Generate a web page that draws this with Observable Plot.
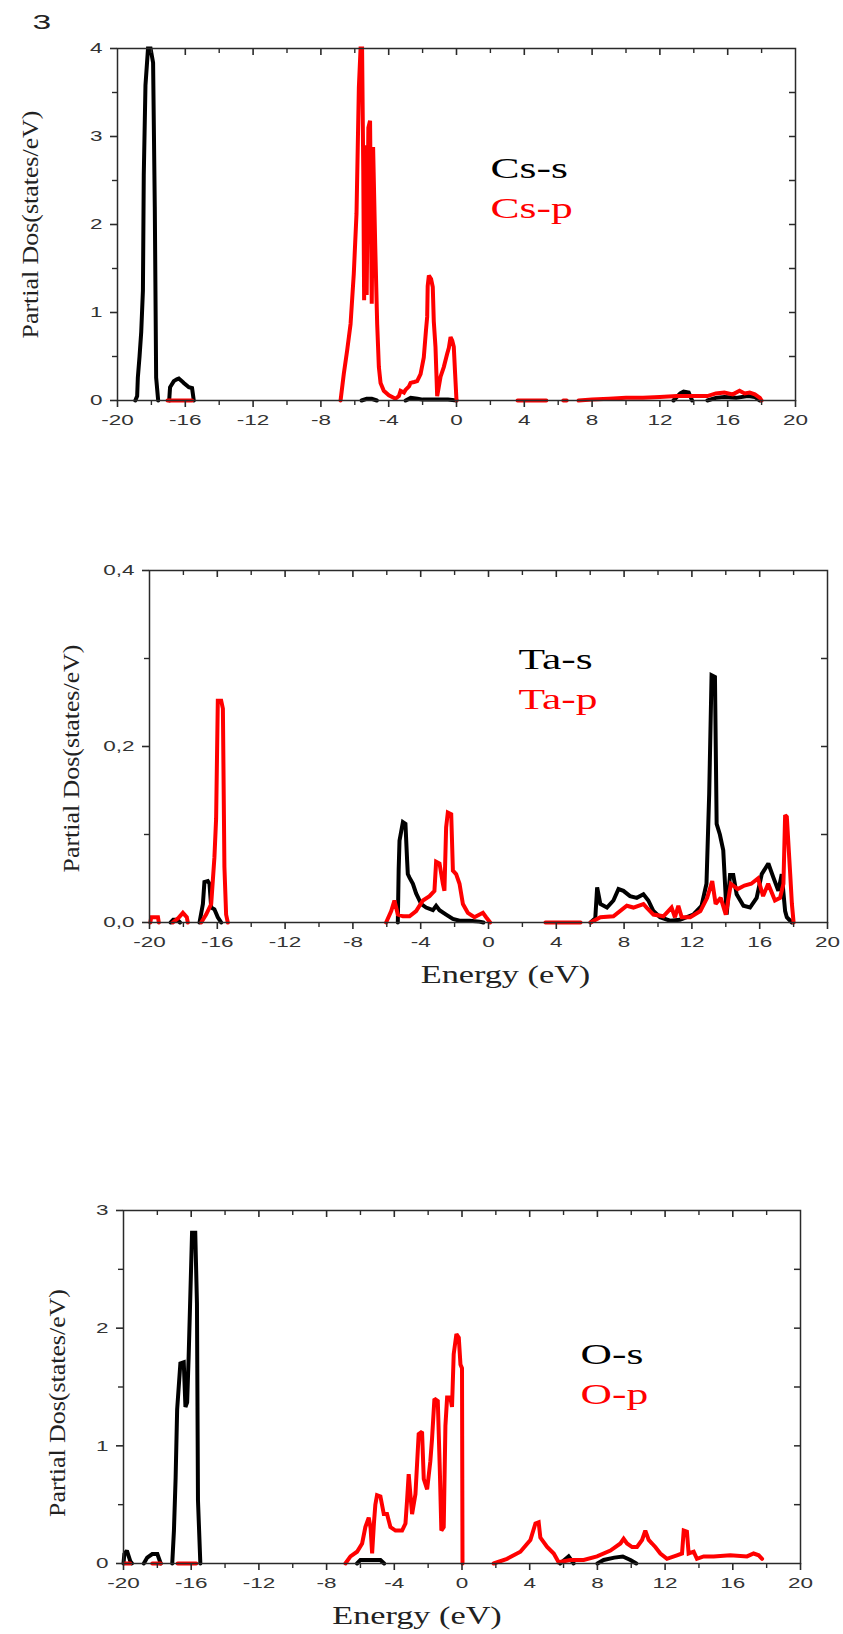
<!DOCTYPE html>
<html><head><meta charset="utf-8">
<script src="https://cdn.jsdelivr.net/npm/d3@7"></script>
<script src="https://cdn.jsdelivr.net/npm/@observablehq/plot@0.6"></script>
<style>
body{margin:0;background:#fff;}
#page{position:relative;width:843px;height:1634px;overflow:hidden;background:#fff;}
.panel{position:absolute;left:0;}
</style></head><body><div id="page"></div>
<script>
// ---------- tick values ----------
const xMajor = [-20,-16,-12,-8,-4,0,4,8,12,16,20];
const xMinor = [-18,-14,-10,-6,-2,2,6,10,14,18];
const xTopMajor = [-16,-12,-8,-4,0,4,8,12,16];
const yMajor1 = [0,1,2,3,4], yMinor1 = [0.5,1.5,2.5,3.5], yRight1 = [0.5,1,1.5,2,2.5,3,3.5];
const yMajor2 = [0,0.2,0.4], yMinor2 = [0.1,0.3], yRight2 = [0.1,0.2,0.3];
const yMajor3 = [0,1,2,3], yMinor3 = [0.5,1.5,2.5], yRight3 = [0.5,1,1.5,2,2.5];

// ---------- labels ----------
const legend1 = ["Cs-s","Cs-p"], legend2 = ["Ta-s","Ta-p"], legend3 = ["O-s","O-p"];
const yTitle = "Partial Dos(states/eV)";
const xTitle = "Energy (eV)";
const cornerText = "3";

// ---------- data: [energy (eV), PDOS]; null = gap ----------
const csS = [[-18.95,0],[-18.84,0.05],[-18.8,0.26],[-18.7,0.5],[-18.6,0.78],[-18.5,1.25],[-18.45,2.56],[-18.35,3.58],[-18.2,4.4],[-18.05,4.6],[-17.9,3.84],[-17.8,2.2],[-17.72,0.26],[-17.6,0],
null,[-16.95,0],[-16.9,0.15],[-16.68,0.22],[-16.5,0.24],[-16.38,0.25],[-16.2,0.22],[-16.09,0.2],[-15.79,0.15],[-15.6,0.14],[-15.5,0],
null,[-5.6,0],[-5.3,0.02],[-5.0,0.02],[-4.7,0],
null,[-3.0,0],[-2.7,0.03],[-2.3,0.02],[-2.0,0.01],[-0.5,0.01],[0,0],
null,[12.8,0],[13.2,0.08],[13.4,0.1],[13.7,0.09],[13.9,0],
null,[14.8,0],[15.3,0.03],[15.8,0.04],[16.5,0.03],[17.2,0.05],[17.6,0.04],[17.9,0]];

const csP = [[-17.05,0],[-15.6,0],
null,[-6.84,0],[-6.65,0.3],[-6.45,0.57],[-6.25,0.87],[-6.06,1.44],[-5.9,2.12],[-5.76,3.56],[-5.66,4.2],[-5.57,4.3],[-5.5,2.6],[-5.45,1.14],[-5.37,2.9],[-5.3,1.2],[-5.2,3.1],[-5.1,3.18],[-5.0,1.1],[-4.92,2.88],[-4.8,1.8],[-4.68,0.87],[-4.58,0.38],[-4.48,0.2],[-4.29,0.11],[-3.99,0.06],[-3.6,0.02],[-3.4,0.05],[-3.3,0.11],[-3.1,0.09],[-3.01,0.12],[-2.8,0.16],[-2.71,0.2],[-2.5,0.21],[-2.32,0.22],[-2.12,0.3],[-1.93,0.49],[-1.8,0.8],[-1.73,0.95],[-1.7,1.3],[-1.63,1.42],[-1.5,1.38],[-1.4,1.29],[-1.34,0.9],[-1.24,0.61],[-1.14,0.05],[-1.05,0.15],[-0.94,0.27],[-0.75,0.38],[-0.55,0.53],[-0.45,0.6],[-0.35,0.72],[-0.25,0.68],[-0.16,0.61],[-0.08,0.3],[0,0],
null,[3.6,0],[5.3,0],
null,[6.3,0],[6.5,0],
null,[7.2,0],[8,0.01],[9,0.02],[10,0.03],[11,0.03],[12,0.04],[13,0.05],[14,0.05],[14.8,0.05],[15.3,0.08],[15.8,0.09],[16.3,0.07],[16.7,0.11],[17.0,0.08],[17.3,0.09],[17.6,0.07],[17.9,0.03],[18,0]];

const taS = [[-18.75,0],[-18.6,0.003],[-18.35,0.003],[-18.2,0],
null,[-17.05,0],[-16.85,0.021],[-16.76,0.046],[-16.56,0.047],[-16.46,0.044],[-16.36,0.017],[-16.17,0.015],[-15.97,0.006],[-15.77,0],
null,[-5.35,0],[-5.3,0.06],[-5.25,0.093],[-5.05,0.114],[-4.9,0.112],[-4.8,0.07],[-4.76,0.055],[-4.66,0.051],[-4.46,0.044],[-4.27,0.033],[-3.97,0.021],[-3.68,0.017],[-3.28,0.014],[-3.09,0.019],[-2.89,0.014],[-2.5,0.009],[-2.1,0.004],[-1.71,0.002],[-1.12,0.002],[-0.53,0.001],[-0.3,0],
null,[6.02,0],[6.3,0.005],[6.41,0.04],[6.6,0.021],[6.99,0.017],[7.37,0.025],[7.67,0.038],[7.96,0.036],[8.35,0.03],[8.75,0.028],[9.14,0.032],[9.43,0.025],[9.73,0.013],[10.12,0.006],[10.71,0.002],[11.3,0.003],[12.08,0.009],[12.57,0.019],[12.86,0.044],[13.02,0.146],[13.16,0.281],[13.36,0.279],[13.46,0.112],[13.65,0.1],[13.85,0.082],[14.05,0.009],[14.25,0.054],[14.44,0.054],[14.64,0.032],[15.04,0.019],[15.43,0.017],[15.82,0.028],[16.12,0.055],[16.51,0.067],[16.81,0.051],[17.1,0.036],[17.3,0.055],[17.5,0.013],[17.6,0.006],[17.8,0.002],[17.9,0]];

const taP = [[-19.95,0],[-19.9,0.006],[-19.5,0.006],[-19.45,0],
null,[-18.62,0],[-18.3,0.005],[-18.03,0.011],[-17.8,0.006],[-17.74,0],
null,[-16.95,0],[-16.66,0.009],[-16.36,0.021],[-16.17,0.074],[-16.07,0.118],[-15.97,0.252],[-15.77,0.252],[-15.67,0.243],[-15.58,0.063],[-15.48,0.009],[-15.38,0],
null,[-6.04,0],[-5.74,0.013],[-5.55,0.025],[-5.35,0.009],[-5.05,0.007],[-4.66,0.007],[-4.27,0.013],[-3.87,0.025],[-3.48,0.03],[-3.19,0.036],[-3.09,0.069],[-2.89,0.067],[-2.69,0.044],[-2.6,0.036],[-2.5,0.108],[-2.4,0.125],[-2.2,0.123],[-2.1,0.059],[-1.91,0.055],[-1.71,0.044],[-1.51,0.021],[-1.22,0.011],[-0.83,0.006],[-0.33,0.011],[-0.14,0.006],[0.1,0],
null,[3.36,0],[5.43,0],
null,[6.02,0],[6.6,0.006],[7.37,0.007],[8.16,0.019],[8.55,0.017],[9.14,0.021],[9.33,0.017],[9.73,0.009],[10.32,0.007],[10.8,0.017],[11.0,0.006],[11.2,0.019],[11.4,0.006],[11.9,0.006],[12.5,0.013],[12.9,0.028],[13.2,0.047],[13.4,0.021],[13.7,0.028],[14.0,0.009],[14.3,0.044],[14.7,0.038],[15.1,0.042],[15.5,0.044],[15.9,0.05],[16.2,0.03],[16.5,0.044],[16.9,0.025],[17.2,0.028],[17.4,0.044],[17.5,0.122],[17.6,0.12],[17.8,0.055],[17.9,0.021],[18.0,0]];

const oS = [[-20,0],[-19.95,0.08],[-19.8,0.11],[-19.6,0.02],[-19.5,0],
null,[-18.8,0],[-18.6,0.05],[-18.3,0.08],[-18.0,0.08],[-17.8,0],
null,[-17.12,0],[-17.02,0.28],[-16.92,0.73],[-16.83,1.31],[-16.64,1.7],[-16.44,1.71],[-16.34,1.33],[-16.24,1.37],[-16.15,1.76],[-15.95,2.81],[-15.76,2.81],[-15.66,2.21],[-15.6,0.54],[-15.46,0],
null,[-6.2,0],[-6.0,0.03],[-4.82,0.03],[-4.6,0],
null,[5.8,0],[6.3,0.06],[6.6,0],
null,[8.0,0],[8.37,0.03],[9.0,0.05],[9.5,0.06],[9.95,0.03],[10.3,0]];

const oP = [[-19.95,0],[-19.6,0],
null,[-18.3,0],[-17.8,0],
null,[-16.8,0],[-15.7,0],
null,[-6.89,0],[-6.59,0.06],[-6.2,0.1],[-5.9,0.17],[-5.71,0.31],[-5.51,0.39],[-5.4,0.3],[-5.31,0.085],[-5.2,0.35],[-5.12,0.5],[-5.02,0.58],[-4.82,0.57],[-4.62,0.42],[-4.43,0.42],[-4.23,0.31],[-3.93,0.28],[-3.54,0.28],[-3.34,0.34],[-3.24,0.55],[-3.15,0.76],[-2.95,0.42],[-2.75,0.59],[-2.56,1.1],[-2.36,1.12],[-2.26,0.72],[-2.06,0.63],[-1.87,0.87],[-1.77,1.06],[-1.63,1.4],[-1.43,1.38],[-1.31,0.79],[-1.22,0.28],[-1.08,0.31],[-0.98,1.17],[-0.88,1.41],[-0.69,1.41],[-0.59,1.33],[-0.49,1.78],[-0.33,1.95],[-0.19,1.92],[-0.09,1.69],[0.0,1.66],[0.03,0],
null,[1.87,0],[2.66,0.04],[3.45,0.1],[4.04,0.2],[4.34,0.34],[4.53,0.35],[4.63,0.22],[5.03,0.14],[5.42,0.085],[5.71,0.01],[6.4,0.03],[7.19,0.03],[7.98,0.06],[8.77,0.11],[9.36,0.17],[9.55,0.21],[9.75,0.17],[10.05,0.14],[10.34,0.14],[10.64,0.2],[10.83,0.28],[11.03,0.2],[11.23,0.17],[11.42,0.14],[11.72,0.085],[12.11,0.04],[12.7,0.07],[13.0,0.085],[13.1,0.28],[13.29,0.27],[13.39,0.085],[13.69,0.1],[13.88,0.04],[14.28,0.06],[14.87,0.06],[15.85,0.07],[16.84,0.06],[17.23,0.085],[17.53,0.07],[17.73,0.04]];

// ---------- rendering ----------
const SANS = "Liberation Sans, Arial, sans-serif";
const SERIF = "Liberation Serif, Times New Roman, serif";
const toPoints = arr => arr.map(d => d ? {E: d[0], v: d[1]} : {E: NaN, v: NaN});
const comma = d => d.toFixed(1).replace(".", ",");

const panels = [
  {top: 0, h: 450, mt: 48, mb: 50, ml: 117, mr: 48, yDomain: [0,4], yMajor: yMajor1, yMinor: yMinor1, yRight: yRight1, yFormat: d => String(d),
   s: csS, p: csP, legend: legend1, legDx: 373, legDy: 129, yLabDx: -87, yLabDy: 0, xLab: false, corner: true},
  {top: 520, h: 480, mt: 50, mb: 78, ml: 149, mr: 16, yDomain: [0,0.4], yMajor: yMajor2, yMinor: yMinor2, yRight: yRight2, yFormat: comma,
   s: taS, p: taP, legend: legend2, legDx: 369, legDy: 98, yLabDx: -78, yLabDy: 12, xLab: true, xLabDx: 17, xLabDy: 60},
  {top: 1160, h: 474, mt: 50, mb: 71, ml: 123, mr: 43, yDomain: [0,3], yMajor: yMajor3, yMinor: yMinor3, yRight: yRight3, yFormat: d => String(d),
   s: oS, p: oP, legend: legend3, legDx: 457, legDy: 153, yLabDx: -66, yLabDy: 16, xLab: true, xLabDx: -45, xLabDy: 60}
];

const page = document.getElementById("page");
const AX = "#2a2a2a";

for (const c of panels) {
  const innerW = 843 - c.ml - c.mr, innerH = c.h - c.mt - c.mb;
  const marks = [
    Plot.line(toPoints(c.s), {x: "E", y: "v", stroke: "#000", strokeWidth: 4, strokeLinejoin: "miter", strokeMiterlimit: 2}),
    Plot.line(toPoints(c.p), {x: "E", y: "v", stroke: "#ff0000", strokeWidth: 4, strokeLinejoin: "miter", strokeMiterlimit: 2}),
    Plot.frame({stroke: AX, strokeWidth: 1.5}),
    Plot.axisX({ticks: xMajor, tickSize: 7, tickPadding: 7, tickFormat: d => String(d), label: null, fontSize: 15, stroke: AX, strokeWidth: 1.6, fill: "#333"}),
    Plot.axisX({ticks: xMinor, tickSize: 5, tickFormat: () => "", label: null, stroke: AX, strokeWidth: 1.4}),
    Plot.tickX(xTopMajor, {x: d => d, insetBottom: innerH - 7, stroke: AX, strokeWidth: 1.6}),
    Plot.tickX(xMinor, {x: d => d, insetBottom: innerH - 5, stroke: AX, strokeWidth: 1.4}),
    Plot.axisY({ticks: c.yMajor, tickSize: 7, tickPadding: 8, tickFormat: c.yFormat, label: null, fontSize: 15, stroke: AX, strokeWidth: 1.6, fill: "#333"}),
    Plot.axisY({ticks: c.yMinor, tickSize: 5, tickFormat: () => "", label: null, stroke: AX, strokeWidth: 1.4}),
    Plot.tickY(c.yRight, {y: d => d, insetLeft: innerW - 6, stroke: AX, strokeWidth: 1.5}),
    Plot.text([c.legend[0]], {frameAnchor: "top-left", textAnchor: "start", lineAnchor: "bottom", dx: c.legDx, dy: c.legDy, fontSize: 29, fill: "#000"}),
    Plot.text([c.legend[1]], {frameAnchor: "top-left", textAnchor: "start", lineAnchor: "bottom", dx: c.legDx, dy: c.legDy + 40, fontSize: 29, fill: "#ff0000"}),
    Plot.text([yTitle], {frameAnchor: "left", rotate: -90, textAnchor: "middle", lineAnchor: "middle", dx: c.yLabDx, dy: c.yLabDy, fontSize: 24, fill: "#222"})
  ];
  if (c.xLab) marks.push(Plot.text([xTitle], {frameAnchor: "bottom", textAnchor: "middle", lineAnchor: "bottom", dx: c.xLabDx, dy: c.xLabDy, fontSize: 25, fill: "#222"}));
  if (c.corner) marks.push(Plot.text([cornerText], {frameAnchor: "top-left", textAnchor: "start", lineAnchor: "bottom", dx: -85, dy: -20, fontSize: 21, fill: "#222"}));

  const svg = Plot.plot({
    width: 843, height: c.h,
    marginLeft: c.ml, marginRight: c.mr, marginTop: c.mt, marginBottom: c.mb,
    x: {domain: [-20, 20]},
    y: {domain: c.yDomain, clamp: true},
    style: {background: "transparent", color: "#222", overflow: "visible"},
    marks
  });
  const div = document.createElement("div");
  div.className = "panel";
  div.style.top = c.top + "px";
  div.appendChild(svg);
  page.appendChild(div);

  // fonts and horizontal stretch of the texts (the reference's text is widened)
  const legendSet = new Set(c.legend);
  const numRe = /^-?\d+(,\d)?$/;
  svg.querySelectorAll("text").forEach(el => {
    const s = el.textContent;
    let fam = null, f = 1;
    if (legendSet.has(s)) { fam = SERIF; f = 1.5; }
    else if (s === yTitle) { fam = SERIF; f = 0; }
    else if (s === xTitle) { fam = SERIF; f = 1.37; }
    else if (s === cornerText && c.corner && !el.closest('g[aria-label*="axis"]')) { fam = SANS; f = 1.6; }
    else if (numRe.test(s)) { fam = SANS; f = 1.5; }
    else return;
    el.style.fontFamily = fam;
    if (f === 0) {
      const L = el.getComputedTextLength();
      f = L > 0 ? 228 / L : 1.08;
    }
    const t = el.getAttribute("transform");
    if (t) el.setAttribute("transform", t + ` scale(${f.toFixed(3)},1)`);
    else {
      const x = +el.getAttribute("x") || 0;
      el.removeAttribute("x");
      el.setAttribute("transform", `translate(${x},0) scale(${f.toFixed(3)},1)`);
    }
  });
}
</script></body></html>
